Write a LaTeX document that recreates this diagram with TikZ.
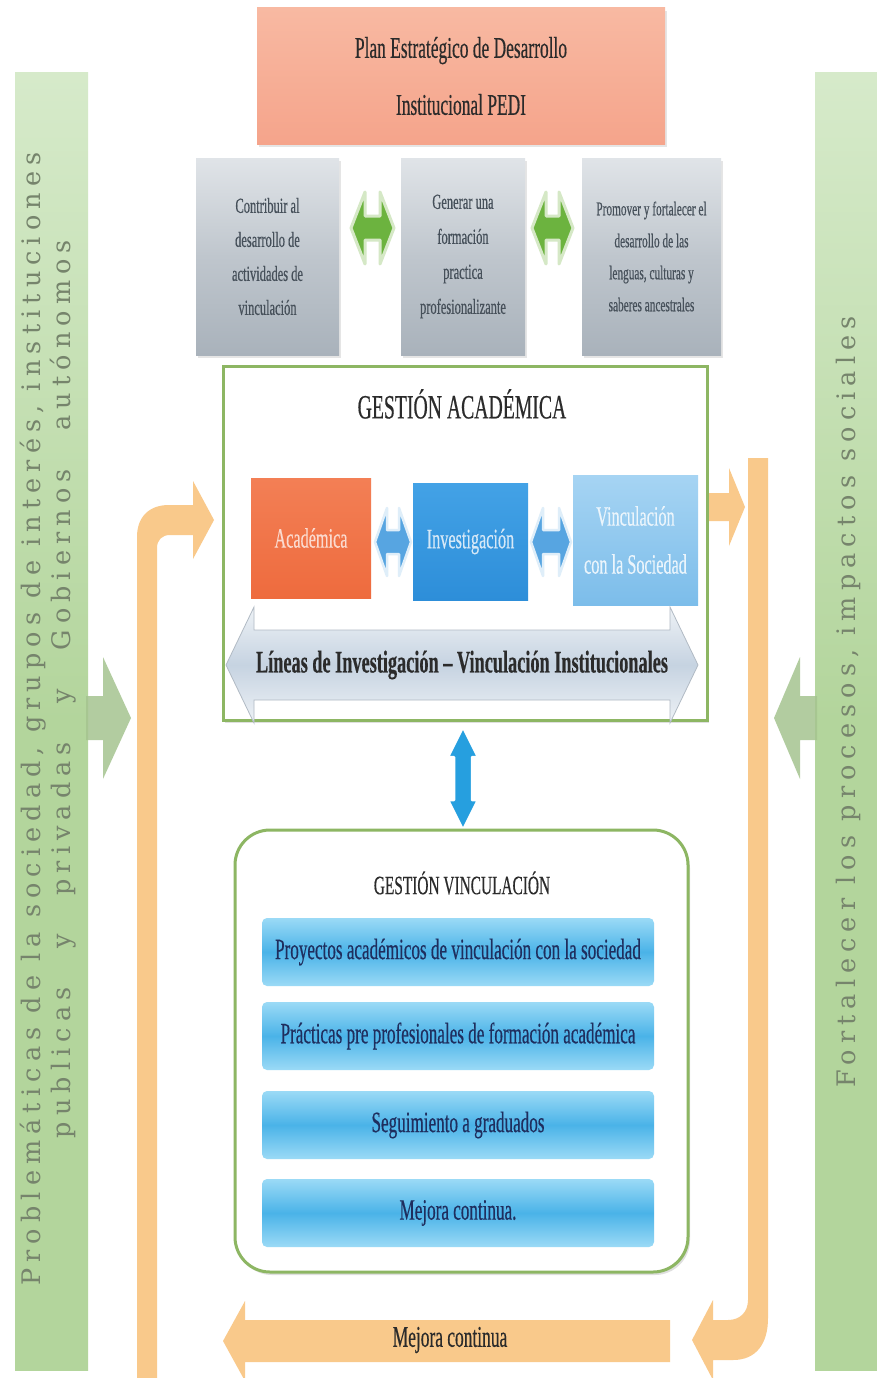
\documentclass[tikz,border=0pt]{standalone}
\usepackage{fontspec}
\newfontfamily\cf[FakeStretch=0.58,FakeBold=0.4]{Liberation Serif}
\newfontfamily\sidef[LetterSpace=24]{DejaVu Serif}
\usetikzlibrary{shadows}
\definecolor{gbar}{HTML}{B3D59C}
\definecolor{gbartop}{HTML}{D6EACA}
\definecolor{sidetxt}{HTML}{76846C}
\definecolor{salmon}{HTML}{F5A48B}
\definecolor{salmontop}{HTML}{F8B9A2}
\definecolor{graytop}{HTML}{E0E4E8}
\definecolor{graybot}{HTML}{A9B2BB}
\definecolor{graytxt}{HTML}{46505A}
\definecolor{garrow}{HTML}{6CB33F}
\definecolor{garrowlt}{HTML}{D5E8C6}
\definecolor{gborder}{HTML}{8DB663}
\definecolor{acad}{HTML}{EE6B3E}
\definecolor{acadtop}{HTML}{F37F55}
\definecolor{inves}{HTML}{2D8ED9}
\definecolor{investop}{HTML}{43A2E6}
\definecolor{vinc}{HTML}{7CBDEA}
\definecolor{vinctop}{HTML}{A6D4F3}
\definecolor{barmid}{HTML}{4AB3E8}
\definecolor{barlt}{HTML}{9BDAF6}
\definecolor{bartxt}{HTML}{1F2E5E}
\definecolor{lineas}{HTML}{C6D3E1}
\definecolor{lineastop}{HTML}{EEF2F6}
\definecolor{orangeb}{HTML}{F9C98B}
\definecolor{darktxt}{HTML}{2B2B2B}
\newcommand{\dblH}[7]{\path[#7] (#1,#3) -- ({#1+#6},{#3-#5}) -- ({#1+#6},{#3-#4}) -- ({#2-#6},{#3-#4}) -- ({#2-#6},{#3-#5}) -- (#2,#3) -- ({#2-#6},{#3+#5}) -- ({#2-#6},{#3+#4}) -- ({#1+#6},{#3+#4}) -- ({#1+#6},{#3+#5}) -- cycle;}
\newcommand{\dblV}[7]{\path[#7] (#3,#1) -- ({#3-#5},{#1+#6}) -- ({#3-#4},{#1+#6}) -- ({#3-#4},{#2-#6}) -- ({#3-#5},{#2-#6}) -- (#3,#2) -- ({#3+#5},{#2-#6}) -- ({#3+#4},{#2-#6}) -- ({#3+#4},{#1+#6}) -- ({#3+#5},{#1+#6}) -- cycle;}
\begin{document}
\begin{tikzpicture}[x=1pt,y=-1pt,
  blk/.style={rectangle, inner sep=0pt, align=center},
  graybox/.style={blk, top color=graytop, bottom color=graybot, middle color=graybot!60!graytop, text=graytxt, drop shadow={opacity=0.2, shadow xshift=2pt, shadow yshift=-3pt}},
  barbox/.style={blk, rounded corners=5pt, top color=barlt, bottom color=barlt, middle color=barmid, text=bartxt, minimum width=392pt, minimum height=68pt, font=\cf\fontsize{29.5}{29.5}\selectfont},
  greenarr/.style={fill=garrow, draw=garrowlt, line width=3pt, line join=round},
  bluearr/.style={fill=inves!80!white, draw=inves!15!white, line width=2.5pt, line join=round},
  orangearr/.style={fill=orangeb},
  sidearr/.style={fill=gbar!92!black, fill opacity=0.85},
  sidetext/.style={rotate=90, inner sep=0pt, text=sidetxt, font=\sidef\fontsize{25.5}{25.5}\selectfont}
]
\useasboundingbox[fill=white] (0,0) rectangle (877,1378);

% side bars
\node[blk, minimum width=73pt, minimum height=1297pt, top color=gbartop, bottom color=gbar, middle color=gbar] (leftbar) at (51.5,721.5) {};
\node[blk, minimum width=62pt, minimum height=1297pt, top color=gbartop, bottom color=gbar, middle color=gbar] (rightbar) at (846,721.5) {};
\node[sidetext] (lt1) at (33,719) {Problemáticas de la sociedad, grupos de interés, instituciones};
\node[sidetext] (lt2) at (63,689) {\makebox[898pt][s]{publicas y privadas y Gobiernos autónomos}};
\node[sidetext] (rt1) at (848,702) {Fortalecer los procesos, impactos sociales};

% green side arrows
\path[sidearr] (86,696) -- (103,696) -- (103,657) -- (131,718) -- (103,779) -- (103,740) -- (86,740) -- cycle;
\path[sidearr] (817,696) -- (800,696) -- (800,657) -- (774,718) -- (800,779) -- (800,740) -- (817,740) -- cycle;

% orange loop arrows
\path[orangearr] (137,1378) -- (137,537) .. controls (137,517) and (149,505) .. (169,505) -- (193,505) -- (193,481) -- (214,520) -- (193,559) -- (193,535) -- (170,535) .. controls (162,535) and (157,540) .. (157,548) -- (157,1378) -- cycle;
\path[orangearr] (748,458) -- (768,458) -- (768,1318) .. controls (768,1344) and (756,1360) .. (733,1360) -- (713,1360) -- (713,1380) -- (692,1340) -- (713,1300) -- (713,1320) -- (728,1320) .. controls (740,1320) and (748,1312) .. (748,1300) -- cycle;
\path[orangearr] (709,493) -- (729,493) -- (729,468) -- (745,507) -- (729,546) -- (729,521) -- (709,521) -- cycle;

% top
\node[blk, minimum width=408pt, minimum height=136pt, top color=salmontop, bottom color=salmon, text=darktxt, drop shadow={opacity=0.2, shadow xshift=2pt, shadow yshift=-3pt}, font=\cf\fontsize{30}{57}\selectfont] (pedi) at (461,76) {Plan Estratégico de Desarrollo\\Institucional PEDI};

\node[graybox, minimum width=143pt, minimum height=197pt, font=\cf\fontsize{21.5}{34}\selectfont] (g1) at (267.5,256.5) {Contribuir al\\desarrollo de\\actividades de\\vinculación};
\node[graybox, minimum width=124pt, minimum height=197pt, font=\cf\fontsize{21.5}{35}\selectfont] (g2) at (463,256.5) {Generar una\\formación\\practica\\profesionalizante};
\node[graybox, minimum width=139pt, minimum height=197pt, font=\cf\fontsize{19.5}{32}\selectfont] (g3) at (651.5,256.5) {Promover y fortalecer el\\desarrollo de las\\lenguas, culturas y\\saberes ancestrales};

\dblH{351}{394}{228}{12}{36}{14}{greenarr}
\dblH{532}{573}{228}{12}{36}{14}{greenarr}

% Gestion academica
\node[blk, minimum width=484pt, minimum height=354pt, fill=white, draw=gborder, line width=3pt, drop shadow={opacity=0.25, shadow xshift=2pt, shadow yshift=-3pt}] (ga) at (465,543) {};
\node[blk, text=darktxt, font=\cf\fontsize{34}{34}\selectfont] (gat) at (462,404) {GESTIÓN ACADÉMICA};

\node[blk, minimum width=120pt, minimum height=120pt, top color=acadtop, bottom color=acad, text=acad!25!white, font=\cf\fontsize{28}{28}\selectfont] (acad) at (311,538) {Académica};
\node[blk, minimum width=115pt, minimum height=117pt, top color=investop, bottom color=inves, text=inves!20!white, font=\cf\fontsize{28}{28}\selectfont] (inv) at (470.5,541.5) {Investigación};
\node[blk, minimum width=125pt, minimum height=130pt, top color=vinctop, bottom color=vinc, text=white!85!vinc, font=\cf\fontsize{28}{48}\selectfont] (vinc) at (635.5,540) {Vinculación\\con la Sociedad};

\dblH{375}{411}{542}{12}{34}{12}{bluearr}
\dblH{531}{571}{542}{12}{34}{12}{bluearr}

\dblH{226}{698}{665}{35}{58}{28}{top color=lineastop, bottom color=lineastop, middle color=lineas, draw=lineas!70!gray, line width=0.8pt}
\node[blk, text=darktxt, font=\cf\fontsize{31.5}{31.5}\selectfont\bfseries] (lin) at (462,665) {Líneas de Investigación – Vinculación Institucionales};

\dblV{727}{830}{463}{9}{15}{30}{fill=inves!85!cyan, draw=white, line width=2.5pt, line join=round}

% Gestion vinculacion
\node[blk, minimum width=453pt, minimum height=442pt, rounded corners=35pt, fill=white, draw=gborder, line width=3pt, drop shadow={opacity=0.25, shadow xshift=2pt, shadow yshift=-3pt}] (gv) at (461.5,1051) {};
\node[blk, text=darktxt, font=\cf\fontsize{26.5}{26.5}\selectfont] (gvt) at (462,883) {GESTIÓN VINCULACIÓN};
\node[barbox] (b1) at (458,952) {Proyectos académicos de vinculación con la sociedad};
\node[barbox] (b2) at (458,1036) {Prácticas pre profesionales de formación académica};
\node[barbox] (b3) at (458,1125) {Seguimiento a graduados};
\node[barbox] (b4) at (458,1213) {Mejora continua.};

% bottom arrow
\path[orangearr] (223,1341) -- (245,1301) -- (245,1320) -- (670,1320) -- (670,1362) -- (245,1362) -- (245,1381) -- cycle;
\node[blk, text=darktxt, font=\cf\fontsize{30}{30}\selectfont] (mc) at (450,1340) {Mejora continua};
\end{tikzpicture}
\end{document}
